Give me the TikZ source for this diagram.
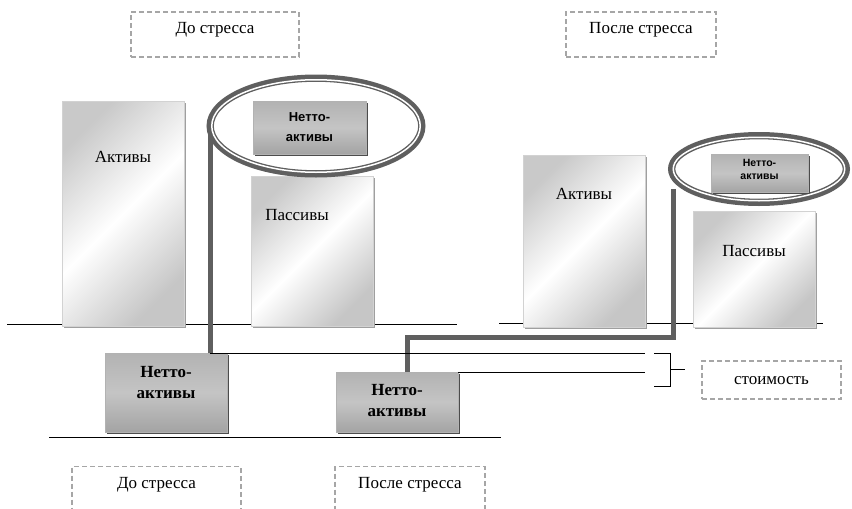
\documentclass[tikz,border=0pt]{standalone}
\usepackage{fontspec}
\setmainfont{Liberation Serif}
\newfontfamily\netsans{Liberation Sans}
\usetikzlibrary{shapes.geometric,shadows}
\definecolor{wire}{RGB}{95,95,95}

\tikzset{
  bigbox/.style={rectangle, draw=gray!35, inner sep=0pt, anchor=north west,
    left color=gray!42, right color=gray!45, middle color=white, shading angle=45,
    drop shadow={shadow xshift=1.5pt, shadow yshift=-1.5pt, fill=gray!75, opacity=1}},
  netbox/.style={rectangle, draw=gray!60, inner sep=0pt, anchor=north west,
    top color=gray!60, bottom color=gray!72, middle color=gray!46,
    drop shadow={shadow xshift=2pt, shadow yshift=-2pt, fill=black!70, opacity=1}},
  tagbox/.style={draw=gray!70, dash pattern=on 5pt off 3pt, line width=1.2pt,
    text height=12pt, text depth=14pt, font=\fontsize{17}{20}\selectfont},
  word/.style={font=\fontsize{17}{20}\selectfont, inner sep=0pt},
  netword/.style={font=\bfseries\fontsize{17}{21}\selectfont, align=center, inner sep=0pt},
  ring/.style={ellipse, draw=wire, line width=7.3pt, inner sep=0pt},
  ringgap/.style={ellipse, draw=white, line width=1.5pt, inner sep=0pt},
  conn/.style={draw=wire, line width=5pt},
  fine/.style={draw=black, line width=0.9pt}
}

\begin{document}
\begin{tikzpicture}[x=1pt, y=-1pt]
  \useasboundingbox (0,0) rectangle (852,509);
  % ground lines
  \draw[fine] (7,324) -- (457,324);
  \draw[fine] (499,323) -- (823,323);
  \draw[fine] (49,437) -- (501,437);

  % before stress
  \node[bigbox, minimum width=122pt, minimum height=225pt] (aktL) at (62,101) {};
  \node[bigbox, minimum width=122pt, minimum height=150pt] (pasL) at (251,176) {};
  \node[word] (aktLt) at (123,157) {Активы};
  \node[word] (pasLt) at (297,215) {Пассивы};
  \node[ring, minimum width=211.7pt, minimum height=95.7pt] (ringL) at (316,126) {};
  \node[netbox, minimum width=113pt, minimum height=53pt] (netL) at (253,101) {};
  \node[align=center, inner sep=0pt, font=\netsans\bfseries\fontsize{13}{20}\selectfont] (netLt) at (309.5,127) {Нетто-\\активы};

  % after stress
  \node[bigbox, minimum width=122pt, minimum height=172pt] (aktR) at (523,155) {};
  \node[bigbox, minimum width=122pt, minimum height=116pt] (pasR) at (693,211) {};
  \node[word] (aktRt) at (584,194) {Активы};
  \node[word] (pasRt) at (754,251) {Пассивы};
  \node[ring, minimum width=174.7pt, minimum height=66.7pt] (ringR) at (759,169) {};
  \node[netbox, minimum width=97pt, minimum height=38pt] (netR) at (711,154) {};
  \node[align=center, inner sep=0pt, font=\netsans\bfseries\fontsize{10.5}{13}\selectfont] (netRt) at (759.5,169.5) {Нетто-\\активы};

  % net assets below
  \node[netbox, minimum width=122pt, minimum height=79pt] (netB) at (105,353) {};
  \node[netbox, minimum width=122pt, minimum height=60pt] (netA) at (336,372) {};
  \node[netword] (netBt) at (166,383) {Нетто-\\активы};
  \node[netword] (netAt) at (397,401) {Нетто-\\активы};

  % connectors
  \coordinate (bend) at (407,337);
  \draw[conn] ([xshift=3.5pt,yshift=-9pt]ringL.west) coordinate (tapL) -- (tapL |- netB.north);
  \draw[conn] ([xshift=5pt,yshift=-20pt]ringR.west) coordinate (tapR) |- (bend) -- (bend |- netA.north);
  \node[ringgap, minimum width=208.5pt, minimum height=92.5pt] (gapL) at (ringL.center) {};
  \node[ringgap, minimum width=171.5pt, minimum height=63.5pt] (gapR) at (ringR.center) {};

  % bracket
  \coordinate (brT) at (670,353);
  \coordinate (brB) at (670,386);
  \coordinate (brM) at (670,369);
  \draw[fine] (tapL |- netB.north) -- ([xshift=-25pt]brT);
  \draw[fine] (netA.north east) -- ([xshift=-25pt]brT |- netA.north);
  \draw[fine] ([xshift=-16pt]brT) -- (brT) -- (brB) -- ([xshift=-16pt]brB);
  \draw[fine] (brM) -- ++(15,0);

  % tags
  \node[tagbox, minimum width=168pt, minimum height=45pt] (preT) at (215,34.5) {До стресса};
  \node[tagbox, minimum width=150pt, minimum height=45pt] (postT) at (641,34.5) {После стресса};
  \node[tagbox, minimum width=169pt, minimum height=45pt] (preB) at (156.5,489) {До стресса};
  \node[tagbox, minimum width=150pt, minimum height=45pt] (postB) at (410,489) {После стресса};
  \node[tagbox, minimum width=139pt, minimum height=38pt, text height=8pt, text depth=0pt] (cost) at (771.5,380) {стоимость};
\end{tikzpicture}
\end{document}
